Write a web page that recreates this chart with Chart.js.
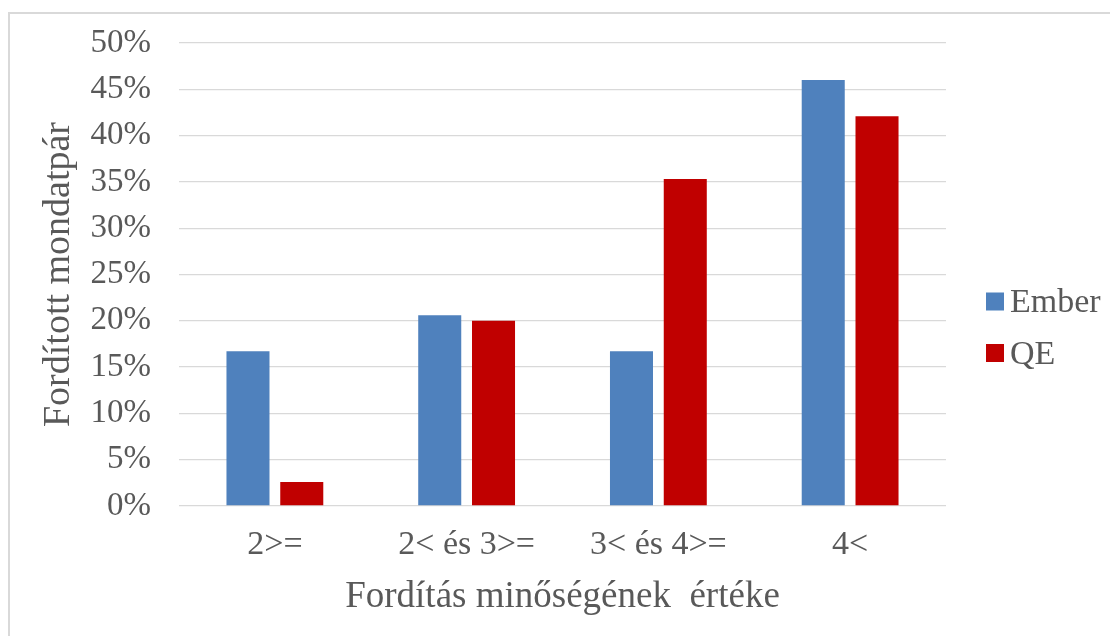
<!DOCTYPE html>
<html>
<head>
<meta charset="utf-8">
<script src="https://cdn.jsdelivr.net/npm/chart.js@4.4.1/dist/chart.umd.min.js"></script>
<style>
  html, body { margin: 0; padding: 0; background: #ffffff; }
  body { width: 1110px; height: 636px; position: relative; overflow: hidden; }
  #frame { position: absolute; left: 8px; top: 12px; width: 1200px; height: 700px;
           border-left: 2px solid #d9d9d9; border-top: 2px solid #d9d9d9; box-sizing: border-box; }
  #wrap { position: absolute; left: 0; top: 0; width: 1110px; height: 636px; }
</style>
</head>
<body>
<div id="frame"></div>
<div id="wrap"><canvas id="c" width="1110" height="636"></canvas></div>
<script>
const categories = ['2>=', '2< és 3>=', '3< és 4>=', '4<'];
const seriesNames = ['Ember', 'QE'];
const emberValues = [16.7, 20.6, 16.7, 46.0];
const qeValues = [2.6, 20.0, 35.3, 42.1];
const yMin = 0, yMax = 50, yStep = 5;
const xTitle = 'Fordítás minőségének  értéke';
const yTitle = 'Fordított mondatpár';

const TEXT = '#595959';
const SERIF = '"Liberation Serif", "Times New Roman", serif';

const legendPlugin = {
  id: 'customLegend',
  afterDraw(chart) {
    const ctx = chart.ctx;
    ctx.save();
    ctx.font = '34px ' + SERIF;
    ctx.textBaseline = 'middle';
    ctx.textAlign = 'left';
    const ys = [301.5, 353];
    chart.data.datasets.forEach((ds, i) => {
      ctx.fillStyle = ds.backgroundColor;
      ctx.fillRect(986, ys[i] - 9, 18, 18);
      ctx.fillStyle = TEXT;
      ctx.fillText(ds.label, 1010, ys[i] + 2);
    });
    ctx.restore();
  }
};

new Chart(document.getElementById('c'), {
  type: 'bar',
  data: {
    labels: categories,
    datasets: [
      { label: seriesNames[0], data: emberValues, backgroundColor: '#4F81BD' },
      { label: seriesNames[1], data: qeValues, backgroundColor: '#C00000' }
    ]
  },
  options: {
    responsive: false,
    animation: false,
    devicePixelRatio: 1,
    categoryPercentage: 0.561,
    barPercentage: 0.8,
    layout: { padding: { left: 8, top: 43, right: 164, bottom: 0 } },
    plugins: { legend: { display: false }, tooltip: { enabled: false } },
    scales: {
      x: {
        grid: { display: false, drawTicks: false },
        border: { display: false },
        ticks: { color: TEXT, font: { family: SERIF, size: 34 }, padding: 19, maxRotation: 0 },
        title: { display: true, text: xTitle, color: TEXT, font: { family: SERIF, size: 37 }, padding: { top: 0, bottom: 17 } },
        afterFit(scale) { scale.height = 130; scale.paddingLeft = 0; scale.paddingRight = 0; }
      },
      y: {
        min: yMin, max: yMax,
        grid: { color: '#d9d9d9', lineWidth: 1.3, drawTicks: false },
        border: { display: false },
        ticks: { stepSize: yStep, color: TEXT, font: { family: SERIF, size: 33 }, padding: 28,
                 callback: v => v + '%' },
        title: { display: true, text: yTitle, color: TEXT, font: { family: SERIF, size: 38 }, padding: { top: 28, bottom: 0 } },
        afterFit(scale) { scale.width = 171; scale.paddingTop = 0; scale.paddingBottom = 0; }
      }
    }
  },
  plugins: [legendPlugin]
});
</script>
</body>
</html>
